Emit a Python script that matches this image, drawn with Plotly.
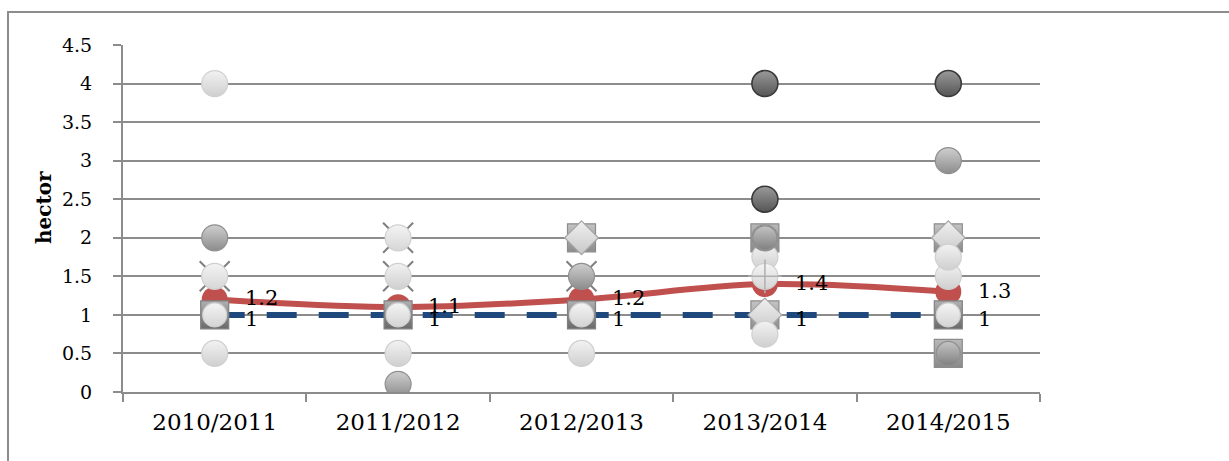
import plotly.graph_objects as go

# Seasons on the category axis
seasons = ["2010/2011", "2011/2012", "2012/2013", "2013/2014", "2014/2015"]

# Summary lines
mean_values = [1.2, 1.1, 1.2, 1.4, 1.3]
median_values = [1, 1, 1, 1, 1]

# Individual observations, grouped by marker style
light_a = [4, 0.5, 0.5, 0.75, 1.5]
light_b = [0.5, 1.5, None, 1.75, 1.75]
light_c = [1.5, 2, None, 1.5, None]
mid_a = [2, 0.1, 1.5, 2, 3]
dark_a = [None, None, None, 4, 4]
dark_b = [None, None, None, 2.5, None]
boxed_light = [1, 1, 1, None, 1]
boxed_mid = [None, None, None, 2, 0.5]
boxed_diamond = [None, None, 2, 1, 2]
cross_a = [1.5, 2, 1.5, None, None]
cross_b = [None, 1.5, None, None, None]
plus_a = [None, None, None, 1.5, None]

SERIF = "DejaVu Serif"
MS = 26

fig = go.Figure()


def markers(values, symbol, top, bottom, edge, size=MS, edge_w=1.2):
    fig.add_trace(go.Scatter(
        x=seasons, y=values, mode="markers", showlegend=False, hoverinfo="skip",
        marker=dict(symbol=symbol, size=size, color=top,
                    gradient=dict(type="vertical", color=bottom),
                    line=dict(color=edge, width=edge_w)),
    ))


# mean line (smoothed) with round markers
fig.add_trace(go.Scatter(
    x=seasons, y=mean_values, mode="lines+markers", showlegend=False,
    line=dict(color="#c0504d", width=6, shape="spline"),
    marker=dict(symbol="circle", size=MS, color="#c0504d"),
))

# median dashed line
fig.add_trace(go.Scatter(
    x=seasons, y=median_values, mode="lines", showlegend=False,
    line=dict(color="#1f497d", width=6, dash="30px,22px"),
))

# thin cross / plus glyphs behind circles
for vals in (cross_a, cross_b):
    fig.add_trace(go.Scatter(
        x=seasons, y=vals, mode="markers", showlegend=False, hoverinfo="skip",
        marker=dict(symbol="x-thin", size=30, line=dict(color="#7f7f7f", width=2)),
    ))

# boxed markers
markers(boxed_light, "square", "#b0b0b0", "#6a6a6a", "#808080", size=28)
markers(boxed_mid, "square", "#b8b8b8", "#8a8a8a", "#8c8c8c", size=28)
markers(boxed_diamond, "square", "#c4c4c4", "#8c8c8c", "#8c8c8c", size=28)
markers(boxed_diamond, "diamond", "#f0f0f0", "#c8c8c8", "#a6a6a6", size=26)

# circles
markers(light_a, "circle", "#f2f2f2", "#cfcfcf", "#d0d0d0")
markers(light_b, "circle", "#f2f2f2", "#cfcfcf", "#d0d0d0")
markers(light_c, "circle", "#f4f4f4", "#d6d6d6", "#d0d0d0")
markers(boxed_light, "circle", "#f4f4f4", "#d4d4d4", "#d0d0d0", size=24)
markers(mid_a, "circle", "#cfcfcf", "#8c8c8c", "#8f8f8f")
markers(boxed_mid, "circle", "#c4c4c4", "#808080", "#8f8f8f", size=24)
markers(dark_a, "circle", "#9a9a9a", "#555555", "#3a3a3a", edge_w=1.6)
markers(dark_b, "circle", "#9a9a9a", "#555555", "#3a3a3a", edge_w=1.6)

fig.add_trace(go.Scatter(
    x=seasons, y=plus_a, mode="markers", showlegend=False, hoverinfo="skip",
    marker=dict(symbol="cross-thin", size=24, line=dict(color="#b0b0b0", width=1.5)),
))

# value labels, placed to the right of each point
label_font = dict(family=SERIF, size=21, color="#000000")
labels = []
for s, v in zip(seasons, mean_values):
    labels.append(dict(x=s, y=v, text=f"{v:g}", showarrow=False, xanchor="left",
                       yanchor="middle", xshift=28, yshift=1, font=label_font))
for s, v in zip(seasons, median_values):
    labels.append(dict(x=s, y=v, text=f"{v:g}", showarrow=False, xanchor="left",
                       yanchor="middle", xshift=28, yshift=-4, font=label_font))

L, R, T, B = 123, 189, 45, 69
pw, ph = 1229 - L - R, 461 - T - B

labels.append(dict(
    text="<b>hector</b>", textangle=-90, showarrow=False,
    xref="paper", yref="paper", x=(44 - L) / pw, y=(392 - 208) / ph,
    xanchor="center", yanchor="middle", font=dict(family=SERIF, size=20),
))

fig.update_layout(
    width=1229, height=461,
    margin=dict(l=L, r=R, t=T, b=B),
    paper_bgcolor="#ffffff", plot_bgcolor="#ffffff",
    font=dict(family=SERIF, color="#000000"),
    xaxis=dict(
        type="category", range=[-0.5, 4.5], showgrid=False, zeroline=False,
        showline=True, linecolor="#8c8c8c", linewidth=2,
        ticks="outside", tickson="boundaries", ticklen=8, tickcolor="#8c8c8c", tickwidth=2,
        tickfont=dict(family=SERIF, size=23), ticklabelstandoff=8,
    ),
    yaxis=dict(
        range=[0, 4.5], dtick=0.5, tick0=0, showgrid=True, gridcolor="#8c8c8c", gridwidth=2,
        zeroline=False, showline=True, linecolor="#8c8c8c", linewidth=2,
        ticks="outside", ticklen=8, tickcolor="#8c8c8c", tickwidth=2,
        tickfont=dict(family=SERIF, size=19), ticklabelstandoff=17,
    ),
    annotations=labels,
    shapes=[dict(
        type="rect", xref="paper", yref="paper", layer="below",
        x0=(8 - L) / pw, x1=(1240 - L) / pw, y0=(392 - 480) / ph, y1=(392 - 12) / ph,
        line=dict(color="#8c8c8c", width=2), fillcolor="rgba(0,0,0,0)",
    )],
)

fig.write_html("out.html")
